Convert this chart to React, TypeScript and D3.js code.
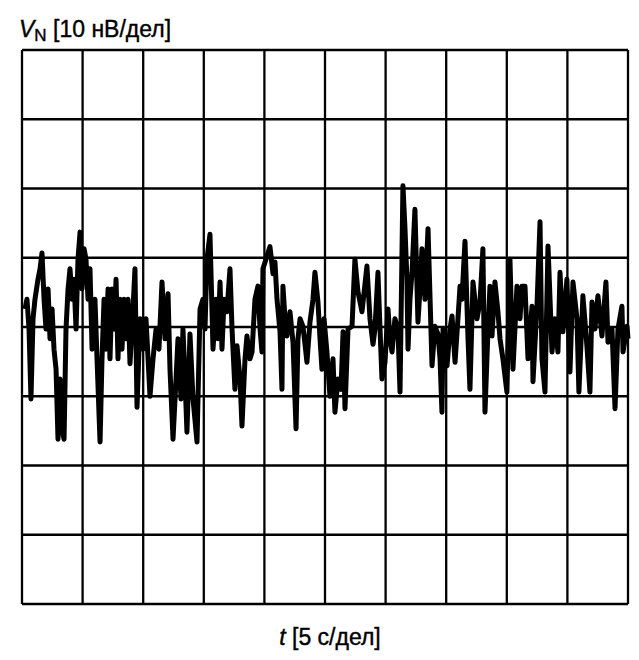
import React from 'react'
import * as d3 from 'd3'

// time in seconds (5 s per division), noise voltage in nV (10 nV per division)
const times = [
  0.25, 0.41, 0.58, 0.74, 0.91, 1.07, 1.32, 1.49, 1.65, 1.82, 1.98, 2.15, 2.31, 2.48, 2.64, 2.81, 2.97, 3.14, 3.3, 3.47,
  3.63, 3.8, 3.96, 4.13, 4.29, 4.46, 4.62, 4.79, 4.95, 5.12, 5.28, 5.45, 5.61, 5.78, 6.02, 6.19, 6.44, 6.6, 6.77, 6.93,
  7.1, 7.26, 7.43, 7.59, 7.76, 7.92, 8.09, 8.25, 8.42, 8.58, 8.75, 8.91, 9.16, 9.32, 9.49, 9.74, 9.98, 10.23, 10.56, 10.81,
  11.06, 11.3, 11.55, 11.8, 12.05, 12.21, 12.46, 12.71, 12.87, 13.12, 13.28, 13.45, 13.61, 13.86, 14.11, 14.44, 14.69, 14.93, 15.1, 15.26,
  15.51, 15.76, 16.01, 16.17, 16.34, 16.5, 16.67, 16.91, 17.16, 17.33, 17.57, 17.74, 17.99, 18.15, 18.4, 18.56, 18.81, 18.98, 19.22, 19.47,
  19.64, 19.8, 19.88, 20.13, 20.46, 20.71, 20.87, 21.04, 21.29, 21.45, 21.53, 21.7, 21.86, 22.11, 22.36, 22.61, 22.77, 22.94, 23.18, 23.35,
  23.51, 23.76, 24.01, 24.17, 24.42, 24.59, 24.75, 24.92, 25.16, 25.41, 25.66, 25.82, 26.07, 26.32, 26.49, 26.65, 26.9, 27.23, 27.47, 27.72,
  28.05, 28.3, 28.46, 28.71, 28.96, 29.12, 29.37, 29.54, 29.7, 29.95, 30.2, 30.36, 30.53, 30.77, 31.02, 31.19, 31.43, 31.6, 31.76, 31.85,
  32.01, 32.18, 32.42, 32.67, 32.84, 33.0, 33.25, 33.5, 33.83, 34.07, 34.32, 34.49, 34.65, 34.74, 35.07, 35.31, 35.48, 35.73, 35.97, 36.14,
  36.3, 36.55, 36.8, 36.96, 37.21, 37.54, 37.79, 38.03, 38.2, 38.45, 38.61, 38.78, 39.02, 39.27, 39.44, 39.68, 40.01, 40.26, 40.51, 40.84,
  41.09, 41.25, 41.5, 41.75, 42.08, 42.16, 42.49, 42.74, 42.9, 43.15, 43.4, 43.73, 43.97, 44.22, 44.39, 44.63, 44.96, 45.21, 45.46, 45.79,
  45.95, 46.28, 46.61, 46.86, 47.03, 47.27, 47.52, 47.85, 48.18, 48.35, 48.68, 48.93, 49.17, 49.5, 49.59, 49.92, 50.0,
]
const noise = [
  2.6, 4.0, -0.3, -10.4, 1.2, 4.0, 6.9, 8.4, 10.7, 4.0, -0.3, 5.5, -1.7, 2.6, -3.2, -6.1, -16.2, -7.5, -14.7, -16.2,
  -0.3, 5.5, 8.4, 4.0, 6.9, -0.3, 9.8, 13.7, 5.5, 11.3, 9.8, 4.0, 8.4, -3.2, 4.0, -4.6, -16.6, -4.6, 4.0, -3.2,
  5.5, -4.6, 5.5, -0.3, 6.9, -4.6, 4.0, -3.2, 4.0, -1.7, 4.0, -5.3, 2.6, 8.4, -11.6, 1.2, -3.2, 1.2, -10.0, -4.6,
  -0.3, -3.2, 6.5, -1.7, 4.8, -6.1, -16.2, -7.5, -1.7, -10.4, -0.3, -7.5, -15.2, -1.0, -10.4, -16.6, 2.6, 4.0, -0.3, 9.8,
  13.4, -3.2, 4.0, -1.7, 6.5, -3.2, 4.0, 2.2, 8.4, -0.3, -9.0, -2.7, -7.5, -14.3, -4.6, -1.3, -4.6, -3.6, 4.0, 5.9,
  -0.3, -3.6, 8.4, 9.8, 11.6, 7.7, 9.4, 4.0, -0.7, -9.0, 5.9, 1.2, -1.3, 2.2, -2.2, -14.7, -1.7, 1.2, 0.1, -2.5,
  -5.1, 0.7, 4.0, 7.9, 3.6, -1.7, -6.1, 1.2, -3.6, -10.0, -4.6, -12.3, -7.5, -9.0, -0.7, -11.8, -0.3, 0.1, 9.8, 5.1,
  2.2, 6.2, 8.8, 1.2, -2.5, -0.3, 7.9, -0.3, -7.5, -5.1, 2.6, -1.7, -3.6, 1.2, -0.3, -9.4, 20.4, 14.2, 6.9, -3.2,
  4.0, 7.9, 17.0, 0.7, 5.5, 11.3, 4.0, 14.2, -5.6, 0.1, -1.0, -4.6, -12.3, -0.3, -5.6, -0.3, 1.6, -5.1, 1.2, 5.9,
  4.0, 12.4, -1.7, -9.0, 6.5, 1.2, 3.6, 11.3, -12.3, -0.3, 5.9, -1.3, 6.5, 2.2, -1.7, -4.6, -9.4, 9.8, -6.1, 5.9,
  1.2, 5.9, 5.9, -4.6, 3.0, -7.9, 3.0, 15.2, -4.6, -9.4, 11.7, -3.6, 1.2, -3.6, 7.9, -0.7, 6.9, -6.5, 6.5, 1.2,
  -9.4, 4.5, -2.7, -9.4, 3.6, -0.3, 4.5, -1.3, 6.5, -2.2, -0.3, -11.8, -0.3, 3.0, -3.6, 0.1, -1.7,
]
const timeTicks = [0, 5, 10, 15, 20, 25, 30, 35, 40, 45, 50]
const voltTicks = [-40, -30, -20, -10, 0, 10, 20, 30, 40]

const W = 639
const H = 660
const left = 22
const right = 628
const top = 50
const bottom = 604

export default function App() {
  const x = d3.scaleLinear().domain([0, 50]).range([left, right])
  const y = d3.scaleLinear().domain([-40, 40]).range([bottom, top])
  const pts = times.map((t, i) => [t, noise[i]] as [number, number])
  const line = d3
    .line<[number, number]>()
    .x((d) => x(d[0]))
    .y((d) => y(d[1]))

  return (
    <svg
      width={W}
      height={H}
      style={{ position: 'absolute', left: 0, top: 0, background: '#fff' }}
      fontFamily="'Liberation Sans', Arial, sans-serif"
    >
      <rect x={0} y={0} width={W} height={H} fill="#fff" />
      {timeTicks.map((t) => (
        <line key={'v' + t} x1={x(t)} x2={x(t)} y1={top} y2={bottom} stroke="#000" strokeWidth={2.3} />
      ))}
      {voltTicks.map((v) => (
        <line key={'h' + v} x1={left} x2={right} y1={y(v)} y2={y(v)} stroke="#000" strokeWidth={2.3} />
      ))}
      <path d={line(pts) || ''} fill="none" stroke="#000" strokeWidth={5} strokeLinejoin="round" />
      <text x={19} y={37} fontSize={23} fill="#000" stroke="#000" strokeWidth={0.4}>
        <tspan fontStyle="italic">V</tspan>
        <tspan fontSize={17} dy={4}>N</tspan>
        <tspan dy={-4}> [10 нВ/дел]</tspan>
      </text>
      <text x={330} y={645} fontSize={23} fill="#000" stroke="#000" strokeWidth={0.4} textAnchor="middle">
        <tspan fontStyle="italic">t</tspan>
        <tspan> [5 с/дел]</tspan>
      </text>
    </svg>
  )
}
